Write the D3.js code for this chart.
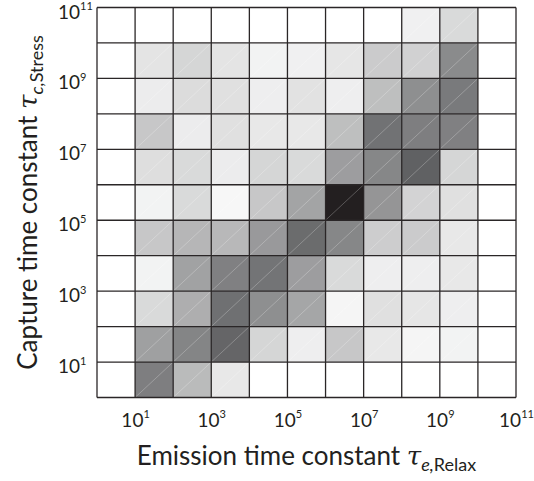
<!DOCTYPE html>
<html>
<head>
<meta charset="utf-8">
<script src="https://cdn.jsdelivr.net/npm/d3@7"></script>
<style>
  body { margin: 0; background: #fff; }
  svg text { fill: #231f20; }
</style>
</head>
<body>
<svg id="chart"></svg>
<script>
// decade exponents of the emission (x) and capture (y) bins
let emissionExp = [0, 1, 2, 3, 4, 5, 6, 7, 8, 9, 10];
let captureExp = [10, 9, 8, 7, 6, 5, 4, 3, 2, 1, 0]; // top row first
let tickExp = [1, 3, 5, 7, 9, 11];

// relative density (0..100) read from the grey level of each cell, rows top to bottom
let row1e10 = [0, 0, 0, 0, 0, 0, 0, 0, 7, 18, 0];
let row1e9  = [0, 13, 20, 13, 6, 7, 12, 25, 22, 56, 0];
let row1e8  = [0, 9, 17, 15, 8, 14, 8, 31, 54, 64, 0];
let row1e7  = [0, 27, 9, 15, 11, 11, 31, 68, 62, 61, 0];
let row1e6  = [0, 16, 18, 9, 20, 18, 47, 58, 76, 20, 0];
let row1e5  = [0, 6, 18, 4, 27, 44, 100, 51, 21, 15, 0];
let row1e4  = [0, 27, 35, 34, 49, 71, 58, 24, 25, 11, 0];
let row1e3  = [0, 6, 45, 61, 67, 47, 18, 8, 8, 11, 0];
let row1e2  = [0, 18, 39, 69, 54, 43, 5, 15, 12, 8, 0];
let row1e1  = [0, 46, 59, 74, 20, 8, 27, 11, 5, 6, 0];
let row1e0  = [0, 62, 33, 11, 0, 0, 0, 0, 0, 0, 0];
let densityRows = [row1e10, row1e9, row1e8, row1e7, row1e6, row1e5, row1e4, row1e3, row1e2, row1e1, row1e0];

let margin = {top: 7.5, right: 18, bottom: 83, left: 97};
let width = 419;
let height = 390;

let svg = d3.select("#chart")
    .attr("width", 534)
    .attr("height", 481)
    .append("g")
    .attr("transform", "translate(" + margin.left + "," + margin.top + ")");

let x = d3.scaleLog().domain([1, 1e11]).range([0, width]);
let y = d3.scaleLog().domain([1, 1e11]).range([height, 0]);

let color = d3.scaleLinear()
    .domain([0, 80, 100])
    .range(["#ffffff", "#58595b", "#231f20"]);

let cells = [];
captureExp.forEach((ce, r) => {
    emissionExp.forEach((ee, c) => {
        cells.push({e: ee, c: ce, v: densityRows[r][c]});
    });
});

let cell = svg.selectAll(".cell")
    .data(cells)
    .enter().append("g")
    .attr("class", "cell");

cell.append("rect")
    .attr("x", d => x(Math.pow(10, d.e)))
    .attr("y", d => y(Math.pow(10, d.c + 1)))
    .attr("width", d => x(Math.pow(10, d.e + 1)) - x(Math.pow(10, d.e)))
    .attr("height", d => y(Math.pow(10, d.c)) - y(Math.pow(10, d.c + 1)))
    .attr("fill", d => color(d.v));

// faint diagonal seam seen in every shaded cell
cell.filter(d => d.v > 0).append("line")
    .attr("x1", d => x(Math.pow(10, d.e)))
    .attr("y1", d => y(Math.pow(10, d.c)))
    .attr("x2", d => x(Math.pow(10, d.e + 1)))
    .attr("y2", d => y(Math.pow(10, d.c + 1)))
    .attr("stroke", "#ffffff")
    .attr("stroke-opacity", 0.35)
    .attr("stroke-width", 0.7);

// grid lines
svg.selectAll(".vline")
    .data(d3.range(0, 12))
    .enter().append("line")
    .attr("x1", d => x(Math.pow(10, d)))
    .attr("x2", d => x(Math.pow(10, d)))
    .attr("y1", 0)
    .attr("y2", height)
    .attr("stroke", "#2a2627")
    .attr("stroke-width", 1.3);

svg.selectAll(".hline")
    .data(d3.range(0, 12))
    .enter().append("line")
    .attr("y1", d => y(Math.pow(10, d)))
    .attr("y2", d => y(Math.pow(10, d)))
    .attr("x1", 0)
    .attr("x2", width)
    .attr("stroke", "#2a2627")
    .attr("stroke-width", 1.3);

// axes: labels only, no ticks or domain line
let xAxis = svg.append("g")
    .attr("transform", "translate(0," + height + ")")
    .call(d3.axisBottom(x).tickValues(tickExp.map(e => Math.pow(10, e))).tickSize(0).tickFormat(""));
xAxis.select(".domain").remove();

let yAxis = svg.append("g")
    .call(d3.axisLeft(y).tickValues(tickExp.map(e => Math.pow(10, e))).tickSize(0).tickFormat(""));
yAxis.select(".domain").remove();

function powerLabel(sel) {
    sel.each(function(d) {
        let t = d3.select(this).selectAll("text")
            .style("font-family", "Lato, 'Open Sans', sans-serif")
            .style("font-size", "19px")
            .attr("fill", "#231f20");
        t.text(null);
        t.append("tspan").text("10");
        t.append("tspan")
            .attr("dy", -8.5)
            .style("font-size", "11px")
            .text(Math.round(Math.log10(d)));
    });
}

xAxis.selectAll(".tick").call(powerLabel);
xAxis.selectAll(".tick text")
    .attr("y", 29)
    .attr("dy", null)
    .attr("text-anchor", "middle");

yAxis.selectAll(".tick").call(powerLabel);
yAxis.selectAll(".tick text")
    .attr("x", -39)
    .attr("y", 10.5)
    .attr("dy", null)
    .attr("text-anchor", "start");

// axis titles
let titleFont = "Lato, 'Open Sans', sans-serif";

let xTitle = svg.append("text")
    .attr("x", width / 2)
    .attr("y", 457)
    .attr("text-anchor", "middle")
    .style("font-family", titleFont)
    .style("font-size", "26px");
xTitle.append("tspan").text("Emission time constant ");
xTitle.append("tspan").style("font-style", "italic").style("font-family", "'DejaVu Serif', serif").text("τ");
xTitle.append("tspan").attr("dy", 6).style("font-size", "18px").style("font-style", "italic").text("e,");
xTitle.append("tspan").style("font-size", "18px").text("Relax");

let yTitle = svg.append("text")
    .attr("transform", "translate(" + (37 - margin.left) + "," + (height / 2) + ") rotate(-90)")
    .attr("text-anchor", "middle")
    .style("font-family", titleFont)
    .style("font-size", "26px");
yTitle.append("tspan").text("Capture time constant ");
yTitle.append("tspan").style("font-style", "italic").style("font-family", "'DejaVu Serif', serif").text("τ");
yTitle.append("tspan").attr("dy", 6).style("font-size", "18px").style("font-style", "italic").text("c,");
yTitle.append("tspan").style("font-size", "18px").text("Stress");
</script>
</body>
</html>
